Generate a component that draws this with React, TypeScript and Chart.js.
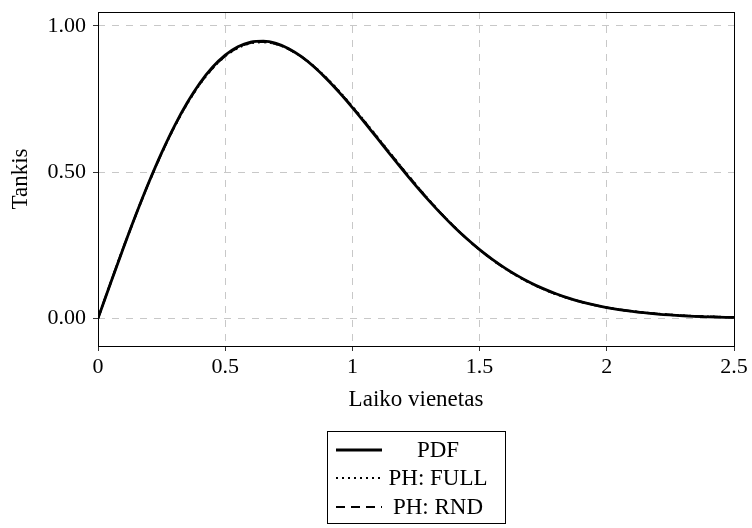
import React, { useEffect, useRef } from "react";
import { Chart, registerables } from "chart.js";

Chart.register(...registerables);

// Time grid (Laiko vienetas)
const timePoints = [
  0, 0.05, 0.1, 0.15, 0.2, 0.25, 0.3, 0.35, 0.4, 0.45, 0.5, 0.55, 0.6, 0.65,
  0.7, 0.75, 0.8, 0.85, 0.9, 0.95, 1.0, 1.05, 1.1, 1.15, 1.2, 1.25, 1.3, 1.35,
  1.4, 1.45, 1.5, 1.55, 1.6, 1.65, 1.7, 1.75, 1.8, 1.85, 1.9, 1.95, 2.0, 2.1,
  2.2, 2.3, 2.4, 2.5,
];

// Density of the reference distribution
const pdfValues = [
  0, 0.1217, 0.2412, 0.3564, 0.4651, 0.5656, 0.6564, 0.736, 0.8035, 0.8582,
  0.8998, 0.9283, 0.9441, 0.9477, 0.9398, 0.9216, 0.8942, 0.8592, 0.8175,
  0.7707, 0.7202, 0.6673, 0.6131, 0.5587, 0.5051, 0.453, 0.4031, 0.3561,
  0.3122, 0.2718, 0.2348, 0.2014, 0.1716, 0.1451, 0.1218, 0.1016, 0.0841,
  0.0692, 0.0565, 0.0459, 0.037, 0.0235, 0.0146, 0.0088, 0.0052, 0.003,
];

// Phase-type fit, full structure
const phFullValues = [
  0, 0.123, 0.242, 0.356, 0.464, 0.5635, 0.6535, 0.7325, 0.7995, 0.854,
  0.8955, 0.924, 0.94, 0.944, 0.937, 0.92, 0.894, 0.8605, 0.82, 0.774, 0.724,
  0.6715, 0.6175, 0.563, 0.509, 0.4565, 0.406, 0.358, 0.3135, 0.272, 0.2345,
  0.2005, 0.17, 0.1435, 0.12, 0.1, 0.0828, 0.0682, 0.056, 0.0457, 0.0372,
  0.0242, 0.0155, 0.0098, 0.0062, 0.0038,
];

// Phase-type fit, random initialisation
const phRndValues = [
  0, 0.1225, 0.2415, 0.3562, 0.4645, 0.564, 0.6545, 0.7335, 0.8005, 0.855,
  0.8965, 0.925, 0.941, 0.945, 0.9375, 0.92, 0.8935, 0.8595, 0.8185, 0.7725,
  0.7225, 0.67, 0.616, 0.5615, 0.508, 0.4555, 0.405, 0.3575, 0.313, 0.272,
  0.2345, 0.2008, 0.1705, 0.144, 0.1205, 0.1005, 0.0832, 0.0685, 0.0562,
  0.0458, 0.0371, 0.024, 0.0152, 0.0095, 0.006, 0.0036,
];

const seriesLabels = ["PDF", "PH: FULL", "PH: RND"];
const xTickValues = [0, 0.5, 1, 1.5, 2, 2.5];
const xTickLabels = ["0", "0.5", "1", "1.5", "2", "2.5"];
const yTickValues = [0, 0.5, 1];
const yTickLabels = ["0.00", "0.50", "1.00"];
const xAxisTitle = "Laiko vienetas";
const yAxisTitle = "Tankis";

const SERIF = "'Liberation Serif', 'Times New Roman', serif";
const GRID = "#c8c8c8";

const toPoints = (ys: number[]) => timePoints.map((x, i) => ({ x, y: ys[i] }));

const decorations = {
  id: "decorations",
  afterDraw(chart: any) {
    const { ctx, chartArea } = chart;
    const { left, right, top, bottom } = chartArea;
    ctx.save();

    // plot frame
    ctx.strokeStyle = "#000";
    ctx.lineWidth = 1;
    ctx.setLineDash([]);
    ctx.strokeRect(Math.round(left) + 0.5, Math.round(top) + 0.5, Math.round(right - left), Math.round(bottom - top));

    // axis titles
    ctx.fillStyle = "#000";
    ctx.font = `23px ${SERIF}`;
    ctx.textAlign = "center";
    ctx.textBaseline = "middle";
    ctx.fillText(xAxisTitle, (left + right) / 2, 400);
    ctx.save();
    ctx.translate(21, (top + bottom) / 2);
    ctx.rotate(-Math.PI / 2);
    ctx.fillText(yAxisTitle, 0, 0);
    ctx.restore();

    // legend box
    const bx = 327.5, by = 431.5, bw = 178, bh = 92;
    ctx.fillStyle = "#fff";
    ctx.fillRect(bx, by, bw, bh);
    ctx.strokeStyle = "#000";
    ctx.lineWidth = 1;
    ctx.strokeRect(bx, by, bw, bh);
    const rows = [450, 478, 507];
    chart.data.datasets.forEach((ds: any, i: number) => {
      const y = rows[i];
      ctx.beginPath();
      ctx.strokeStyle = ds.borderColor;
      ctx.lineWidth = ds.borderWidth;
      ctx.setLineDash(ds.borderDash || []);
      ctx.moveTo(336, y);
      ctx.lineTo(382, y);
      ctx.stroke();
      ctx.setLineDash([]);
      ctx.fillStyle = "#000";
      ctx.font = `23px ${SERIF}`;
      ctx.textAlign = "center";
      ctx.textBaseline = "middle";
      ctx.fillText(ds.label, 438, y + 1);
    });
    ctx.restore();
  },
};

export default function App() {
  const canvasRef = useRef<HTMLCanvasElement | null>(null);

  useEffect(() => {
    document.body.style.margin = "0";
    const canvas = canvasRef.current;
    if (!canvas) return;

    const chart = new Chart(canvas, {
      type: "line",
      data: {
        datasets: [
          {
            label: seriesLabels[0],
            data: toPoints(pdfValues),
            borderColor: "#000",
            borderWidth: 2.8,
            borderDash: [],
            pointRadius: 0,
            cubicInterpolationMode: "monotone",
            fill: false,
          },
          {
            label: seriesLabels[1],
            data: toPoints(phFullValues),
            borderColor: "#000",
            borderWidth: 2.2,
            borderDash: [2, 4],
            pointRadius: 0,
            cubicInterpolationMode: "monotone",
            fill: false,
          },
          {
            label: seriesLabels[2],
            data: toPoints(phRndValues),
            borderColor: "#000",
            borderWidth: 2.2,
            borderDash: [9, 6],
            pointRadius: 0,
            cubicInterpolationMode: "monotone",
            fill: false,
          },
        ],
      },
      options: {
        responsive: false,
        animation: false,
        events: [],
        layout: { padding: { top: 12, right: 18, left: 0, bottom: 0 } },
        plugins: {
          legend: { display: false },
          tooltip: { enabled: false },
        },
        scales: {
          x: {
            type: "linear",
            min: 0,
            max: 2.5,
            afterFit: (scale: any) => {
              scale.height = 182;
              scale.paddingLeft = 0;
              scale.paddingRight = 0;
            },
            afterBuildTicks: (scale: any) => {
              scale.ticks = xTickValues.map((v) => ({ value: v }));
            },
            ticks: {
              autoSkip: false,
              maxRotation: 0,
              padding: 3,
              color: "#000",
              font: { family: SERIF, size: 22 },
              callback: (v: any) => xTickLabels[xTickValues.indexOf(Number(v))] ?? "",
            },
            grid: {
              color: GRID,
              lineWidth: 1,
              tickColor: "#333",
              tickLength: 5,
              tickBorderDash: [],
            },
            border: { display: false, dash: [7, 7] },
          },
          y: {
            type: "linear",
            min: -0.0945,
            max: 1.047,
            afterFit: (scale: any) => {
              scale.width = 98;
              scale.paddingTop = 0;
              scale.paddingBottom = 0;
            },
            afterBuildTicks: (scale: any) => {
              scale.ticks = yTickValues.map((v) => ({ value: v }));
            },
            ticks: {
              padding: 7,
              color: "#000",
              font: { family: SERIF, size: 22 },
              callback: (v: any) => yTickLabels[yTickValues.indexOf(Number(v))] ?? "",
            },
            grid: {
              color: GRID,
              lineWidth: 1,
              tickColor: "#333",
              tickLength: 5,
              tickBorderDash: [],
            },
            border: { display: false, dash: [7, 7] },
          },
        },
      },
      plugins: [decorations],
    } as any);

    return () => chart.destroy();
  }, []);

  return (
    <div style={{ width: 752, height: 528 }}>
      <canvas ref={canvasRef} width={752} height={528} style={{ display: "block" }} />
    </div>
  );
}
